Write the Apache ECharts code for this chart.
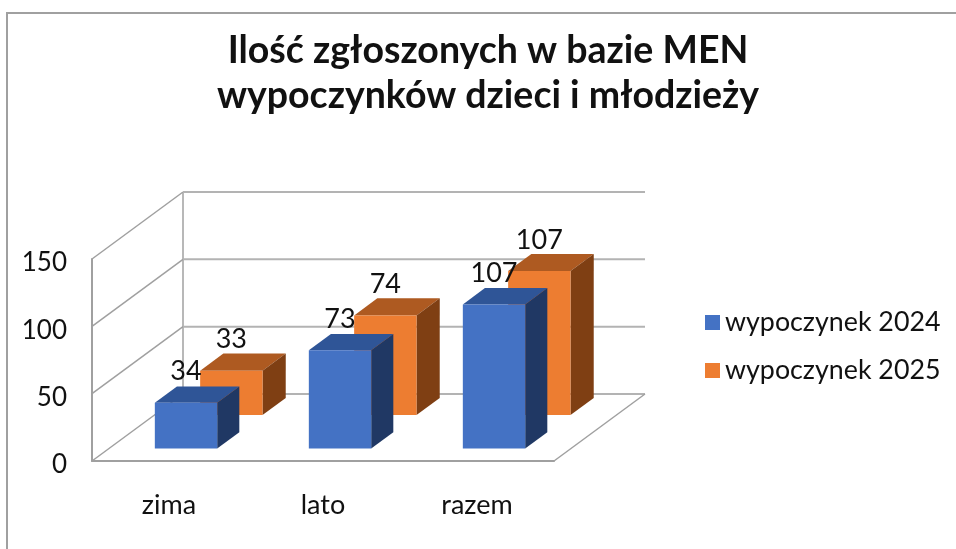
<!DOCTYPE html>
<html>
<head>
<meta charset="utf-8">
<title>wypoczynki</title>
<style>
  html, body { margin: 0; padding: 0; background: #fff; }
  #main { width: 956px; height: 549px; }
</style>
<script src="https://cdn.jsdelivr.net/npm/echarts@6/dist/echarts.min.js"></script>
</head>
<body>
<div id="main"></div>
<script>
const categories = ['zima', 'lato', 'razem']
const wypoczynek2024 = [34, 73, 107]
const wypoczynek2025 = [33, 74, 107]
const yTicks = [0, 50, 100, 150]
const legendNames = ['wypoczynek 2024', 'wypoczynek 2025']

// oblique projection: how far the back wall is shifted from the front plane
const DEPTH_X = 91
const DEPTH_Y = -67
const BAR_WIDTH = 0.405 // part of the category band
const LINE = '#a0a0a0'
const FONT = 'Lato'

function shift (p, t) {
  return [p[0] + DEPTH_X * t, p[1] + DEPTH_Y * t]
}

function renderGridLine (params, api) {
  const v = api.value(0)
  const sys = params.coordSys
  const y = api.coord([0, v])[1]
  const front = [sys.x, y]
  const back = shift(front, 1)
  const right = [sys.x + sys.width + DEPTH_X, back[1]]
  const style = { stroke: LINE, lineWidth: 1.5, fill: null }
  const children = [
    { type: 'polyline', shape: { points: [front, back] }, style: style },
    { type: 'line', shape: { x1: back[0], y1: back[1], x2: right[0], y2: right[1] }, style: { stroke: '#b3b3b3', lineWidth: 2 } }
  ]
  if (v === 0) {
    // the floor edge on the right and the vertical of the back wall
    const topBack = shift([sys.x, api.coord([0, yTicks[yTicks.length - 1]])[1]], 1)
    children.push({ type: 'line', shape: { x1: sys.x + sys.width, y1: y, x2: right[0], y2: right[1] }, style: style })
    children.push({ type: 'line', shape: { x1: back[0], y1: back[1], x2: topBack[0], y2: topBack[1] }, style: style })
  }
  return { type: 'group', children: children }
}

function makeBarRender (t0, t1, colors) {
  return function (params, api) {
    const cat = api.value(0)
    const val = api.value(1)
    const base = api.coord([cat, 0])
    const top = api.coord([cat, val])
    const w = api.size([1, 0])[0] * BAR_WIDTH
    const bl = shift([base[0] - w / 2, base[1]], t0)
    const br = shift([base[0] + w / 2, base[1]], t0)
    const tl = shift([top[0] - w / 2, top[1]], t0)
    const tr = shift([top[0] + w / 2, top[1]], t0)
    const d = t1 - t0
    const face = function (points, fill) {
      return { type: 'polygon', shape: { points: points }, style: { fill: fill } }
    }
    return {
      type: 'group',
      children: [
        face([tl, tr, shift(tr, d), shift(tl, d)], colors.top),
        face([tr, br, shift(br, d), shift(tr, d)], colors.side),
        face([tl, tr, br, bl], colors.front),
        {
          type: 'text',
          z2: 50,
          style: {
            x: (tl[0] + tr[0]) / 2,
            y: tl[1] - 31,
            text: String(val),
            align: 'center',
            verticalAlign: 'middle',
            font: '27px ' + FONT,
            fill: '#111'
          }
        }
      ]
    }
  }
}

const myChart = echarts.init(document.getElementById('main'))
myChart.setOption({
  animation: false,
  backgroundColor: '#fff',
  textStyle: { fontFamily: FONT },
  title: {
    text: 'Ilość zgłoszonych w bazie MEN\nwypoczynków dzieci i młodzieży',
    left: 483,
    top: 23,
    textAlign: 'center',
    textStyle: {
      fontFamily: FONT,
      fontWeight: 'bold',
      fontSize: 37.5,
      lineHeight: 45,
      color: '#111'
    }
  },
  legend: {
    data: legendNames,
    orient: 'vertical',
    left: 700,
    top: 304,
    itemWidth: 15,
    itemHeight: 15,
    itemGap: 21,
    icon: 'rect',
    textStyle: { fontFamily: FONT, fontSize: 26.8, color: '#111' }
  },
  grid: { left: 92, top: 259, width: 462, height: 202 },
  xAxis: {
    type: 'category',
    data: categories,
    axisTick: { show: false },
    axisLine: { show: true, lineStyle: { color: LINE, width: 2 } },
    axisLabel: { fontFamily: FONT, fontSize: 27, color: '#111', margin: 31 }
  },
  yAxis: {
    type: 'value',
    min: 0,
    max: 150,
    interval: 50,
    splitLine: { show: false },
    axisTick: { show: false },
    axisLine: { show: true, lineStyle: { color: LINE, width: 2 } },
    // labels sit a little below their tick in the original
    axisLabel: { fontFamily: FONT, fontSize: 26, color: '#111', margin: 25, verticalAlign: 'top', padding: [-9, 0, 0, 0] }
  },
  series: [
    {
      name: 'sciany',
      type: 'custom',
      silent: true,
      z: 1,
      renderItem: renderGridLine,
      encode: { y: 0 },
      data: yTicks.map(v => [v])
    },
    {
      name: legendNames[1],
      type: 'custom',
      z: 2,
      itemStyle: { color: '#ed7d31' },
      renderItem: makeBarRender(0.685, 0.94, { front: '#ed7d31', side: '#7f3f13', top: '#ae5a21' }),
      encode: { x: 0, y: 1 },
      data: wypoczynek2025.map((v, i) => [i, v])
    },
    {
      name: legendNames[0],
      type: 'custom',
      z: 3,
      itemStyle: { color: '#4472c4' },
      renderItem: makeBarRender(0.187, 0.43, { front: '#4472c4', side: '#203864', top: '#2f5597' }),
      encode: { x: 0, y: 1 },
      data: wypoczynek2024.map((v, i) => [i, v])
    }
  ],
  graphic: [
    {
      type: 'polyline',
      silent: true,
      shape: { points: [[7, 549], [7, 13], [956, 13]] },
      style: { stroke: '#a0a0a0', lineWidth: 2, fill: null }
    }
  ]
})
</script>
</body>
</html>
